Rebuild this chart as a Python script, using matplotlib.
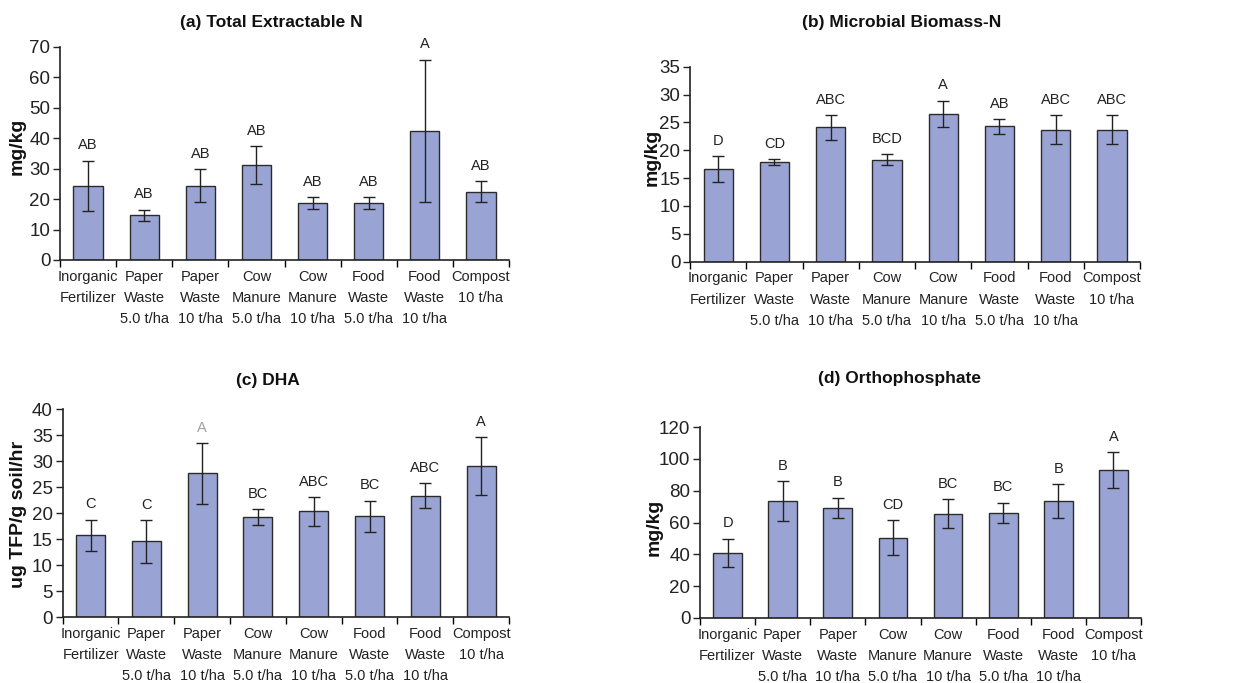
import matplotlib
matplotlib.use("Agg")
import matplotlib.pyplot as plt
import numpy as np

plt.rcParams["font.family"] = ["Liberation Sans", "DejaVu Sans"]

categories = [
    "Inorganic\nFertilizer", "Paper\nWaste\n5.0 t/ha", "Paper\nWaste\n10 t/ha",
    "Cow\nManure\n5.0 t/ha", "Cow\nManure\n10 t/ha", "Food\nWaste\n5.0 t/ha",
    "Food\nWaste\n10 t/ha", "Compost\n10 t/ha",
]

# (a) Total extractable N, mg/kg
tn_mean = [24.4, 14.7, 24.4, 31.1, 18.6, 18.6, 42.3, 22.4]
tn_err = [8.2, 1.8, 5.5, 6.2, 2.0, 2.0, 23.4, 3.5]
tn_letters = ["AB", "AB", "AB", "AB", "AB", "AB", "A", "AB"]

# (b) Microbial biomass N, mg/kg
mbn_mean = [16.6, 17.9, 24.1, 18.3, 26.5, 24.3, 23.7, 23.7]
mbn_err = [2.3, 0.5, 2.2, 1.0, 2.4, 1.3, 2.6, 2.6]
mbn_letters = ["D", "CD", "ABC", "BCD", "A", "AB", "ABC", "ABC"]

# (c) Dehydrogenase activity, ug TFP/g soil/hr
dha_mean = [15.7, 14.55, 27.6, 19.2, 20.3, 19.4, 23.3, 29.0]
dha_err = [3.0, 4.1, 5.8, 1.6, 2.8, 3.0, 2.4, 5.6]
dha_letters = ["C", "C", "A", "BC", "ABC", "BC", "ABC", "A"]

# (d) Orthophosphate, mg/kg
op_mean = [40.8, 73.5, 69.1, 50.5, 65.5, 66.2, 73.5, 93.0]
op_err = [9.0, 12.4, 6.4, 10.9, 9.0, 6.2, 10.5, 11.1]
op_letters = ["D", "B", "B", "CD", "BC", "BC", "B", "A"]

BAR_COLOR = "#9aa4d4"
EDGE = "#2b2b2b"

W, H = 1248, 683
fig = plt.figure(figsize=(W / 100, H / 100), dpi=100)


def box(l, t, r, b):
    return [l / W, 1 - b / H, (r - l) / W, (b - t) / H]


def panel(rect, means, errs, letters, ymax, ystep, title, title_xy, ylabel, ylabel_xy,
          letter_colors=None):
    ax = fig.add_axes(box(*rect))
    x = np.arange(len(means))
    ax.bar(x, means, width=0.52, color=BAR_COLOR, edgecolor=EDGE, linewidth=1.0, zorder=2)
    ax.errorbar(x, means, yerr=errs, fmt="none", ecolor="#222222", elinewidth=1.0,
                capsize=4, capthick=1.0, zorder=3)
    for i, (m, e, lab) in enumerate(zip(means, errs, letters)):
        col = "#222222"
        if letter_colors and letter_colors[i]:
            col = letter_colors[i]
        ax.annotate(lab, (x[i], m + e), xytext=(0, 6), textcoords="offset points",
                    ha="center", va="bottom", fontsize=10.5, color=col)
    ax.set_xlim(-0.5, len(means) - 0.5)
    ax.set_ylim(0, ymax)
    ax.set_yticks(np.arange(0, ymax + 0.01, ystep))
    ax.tick_params(axis="y", labelsize=13.5, length=5, width=1.0, pad=2, colors="#222222")
    # category boundaries carry the tick marks; names sit between them
    ax.set_xticks(np.arange(-0.5, len(means)), minor=False)
    ax.set_xticklabels([])
    ax.set_xticks(x, minor=True)
    ax.set_xticklabels(categories, minor=True, fontsize=10.5, color="#222222",
                       linespacing=1.65, va="top")
    ax.tick_params(axis="x", which="major", length=5, width=1.0, direction="out")
    ax.tick_params(axis="x", which="minor", length=0, pad=7)
    for s in ["top", "right"]:
        ax.spines[s].set_visible(False)
    for s in ["left", "bottom"]:
        ax.spines[s].set_linewidth(1.2)
        ax.spines[s].set_color("#222222")
    fig.text(title_xy[0] / W, 1 - title_xy[1] / H, title, ha="center", va="center",
             fontsize=12.5, fontweight="bold", color="#111111")
    fig.text(ylabel_xy[0] / W, 1 - ylabel_xy[1] / H, ylabel, ha="center", va="center",
             rotation=90, fontsize=14, fontweight="bold", color="#111111")
    return ax


panel((60, 46.7, 509, 260), tn_mean, tn_err, tn_letters, 70, 10,
      "(a) Total Extractable N", (271, 22), "mg/kg", (17, 146))
panel((690, 66.7, 1140, 261.7), mbn_mean, mbn_err, mbn_letters, 35, 5,
      "(b) Microbial Biomass-N", (902, 22), "mg/kg", (652, 157))
panel((62.7, 409, 509, 617), dha_mean, dha_err, dha_letters, 40, 5,
      "(c) DHA", (268, 380), "ug TFP/g soil/hr", (19, 514),
      letter_colors=[None, None, "#a0a0a0", None, None, None, None, None])
panel((700, 427, 1141, 618), op_mean, op_err, op_letters, 120, 20,
      "(d) Orthophosphate", (900, 379), "mg/kg", (654, 527))

fig.savefig("out.png", dpi=100, facecolor="white")
